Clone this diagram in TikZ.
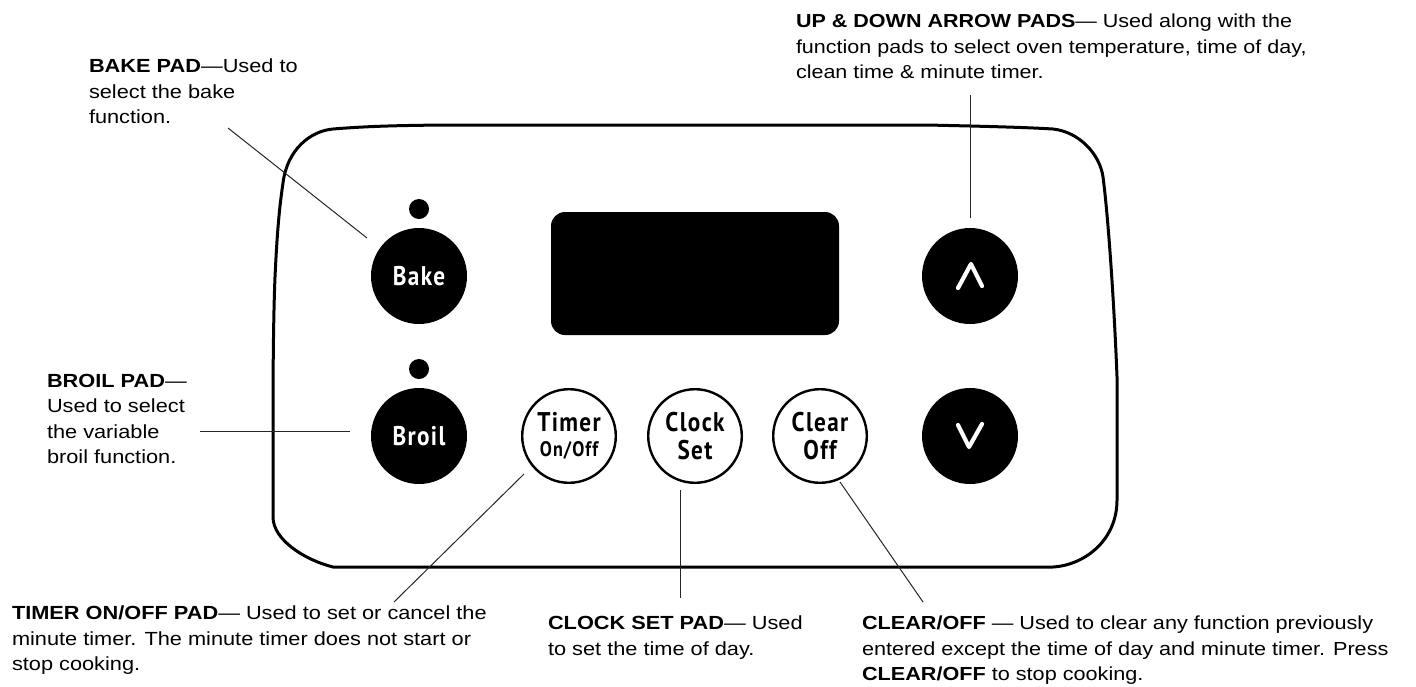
\documentclass[tikz,border=0pt]{standalone}
\usepackage{fontspec}
\setmainfont[FakeStretch=1.145]{Liberation Sans}
\newfontfamily\btnfont[FakeStretch=0.86,LetterSpace=5]{PT Sans}
\tikzset{
  x=0.5pt,y=-0.5pt,
  pad/.style={circle,inner sep=0pt,outer sep=0pt,align=center,font=\btnfont\bfseries\fontsize{13.5}{14}\selectfont},
  darkpad/.style={pad,fill=black,text=white,minimum size=48pt},
  lightpad/.style={pad,draw=black,fill=white,line width=1.2pt,minimum size=46.8pt,text=black,font=\btnfont\fontsize{13.5}{14}\selectfont\bfseries},
  led/.style={circle,fill=black,inner sep=0pt,minimum size=10pt},
  caption/.style={anchor=north west,inner sep=0pt,outer sep=0pt,align=left,text=black,font=\fontsize{9.5}{12.75}\selectfont},
  leader/.style={line width=0.5pt,draw=black!85},
  chev/.style={draw=white,line width=2.1pt,line cap=round,line join=round},
  panel/.style={draw=black,line width=1.5pt},
}
\begin{document}
\begin{tikzpicture}
\useasboundingbox (0,0) rectangle (1416,686);
\fill[white] (0,0) rectangle (1416,686);
% panel outline
\draw[panel] (333,129) .. controls (370,126) and (400,125.5) .. (443,125)
  -- (927,125) .. controls (970,126) and (1020,127) .. (1053,129)
  .. controls (1080,132) and (1100,155) .. (1103,177)
  .. controls (1108,215) and (1114,300) .. (1117,377)
  -- (1117,500) .. controls (1117,540) and (1085,565) .. (1053,567)
  -- (333,567) .. controls (305,560) and (273,540) .. (273,517)
  -- (273,410) .. controls (273,350) and (274,300) .. (275,277)
  .. controls (277,235) and (279,210) .. (283,183)
  .. controls (287,150) and (310,131) .. (333,129) -- cycle;
% display
\node[fill=black,rounded corners=7pt,minimum width=144pt,minimum height=61.5pt,inner sep=0pt] (display) at (695,273.5) {};
% pads
\node[led] (bakeled) at (419,209) {};
\node[led] (broilled) at (419,369) {};
\node[darkpad] (bake) at (419,276) {Bake};
\node[darkpad] (broil) at (419,436) {Broil};
\node[lightpad] (timer) at (569,436) {Timer\\[-1.5pt]{\fontsize{10.5}{11}\selectfont On/Off}};
\node[lightpad] (clock) at (695,436) {Clock\\Set};
\node[lightpad] (clear) at (820,436) {Clear\\Off};
\node[darkpad] (up) at (970,276) {};
\node[darkpad] (down) at (970,436) {};
\draw[chev] (958,288) -- (971,264) -- (982,286);
\draw[chev] (958,425) -- (969,447) -- (982,424);
% captions
\node[caption] (capbake) at (89,59) {\textbf{BAKE PAD}—Used to\\select the bake\\function.};
\node[caption] (capbroil) at (47,374) {\textbf{BROIL PAD}—\\Used to select\\the variable\\broil function.};
\node[caption,font=\fontsize{9.4}{12.75}\selectfont] (capup) at (796,14) {\textbf{UP \& DOWN ARROW PADS}— Used along with the\\function pads to select oven temperature, time of day,\\clean time \& minute timer.};
\node[caption] (captimer) at (12,606) {\textbf{TIMER ON/OFF PAD}— Used to set or cancel the\\minute timer. The minute timer does not start or\\stop cooking.};
\node[caption] (capclock) at (548,616) {\textbf{CLOCK SET PAD}— Used\\to set the time of day.};
\node[caption,font=\fontsize{9.45}{12.75}\selectfont] (capclear) at (862,616) {\textbf{CLEAR/OFF} — Used to clear any function previously\\entered except the time of day and minute timer. Press\\\textbf{CLEAR/OFF} to stop cooking.};
% leader ends
\coordinate (bakeA) at (228,128); \coordinate (bakeB) at (367,238);
\coordinate (broilA) at (200,431); \coordinate (broilB) at (350,431);
\coordinate (upA) at (970,95); \coordinate (upB) at (970,218);
\coordinate (timerA) at (394,602); \coordinate (timerB) at (524,474);
\coordinate (clockA) at (680,598); \coordinate (clockB) at (680,490);
\coordinate (clearA) at (923,602); \coordinate (clearB) at (840,482);
\draw[leader] (bakeA) -- (bakeB);
\draw[leader] (broilA) -- (broilB);
\draw[leader] (upA) -- (upB);
\draw[leader] (timerA) -- (timerB);
\draw[leader] (clockA) -- (clockB);
\draw[leader] (clearA) -- (clearB);
\end{tikzpicture}
\end{document}
